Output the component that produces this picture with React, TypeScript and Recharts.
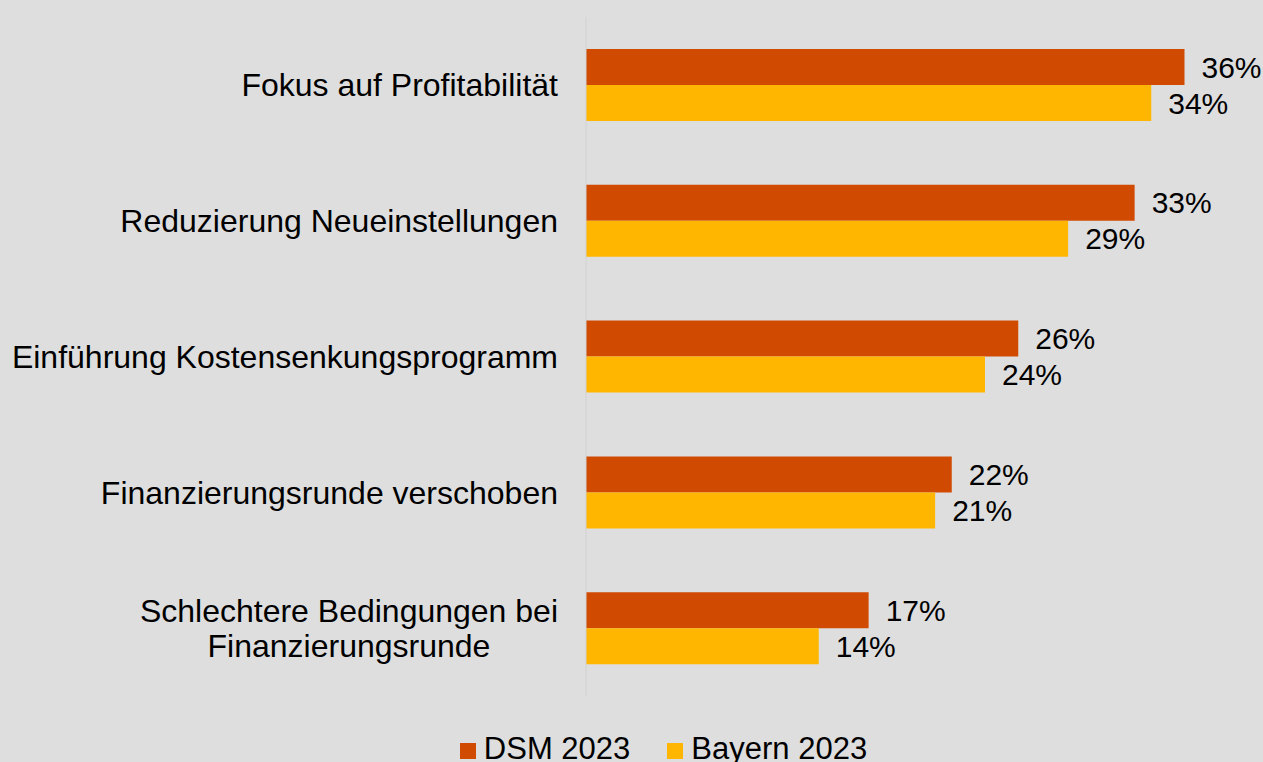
import React from 'react';
import { BarChart, Bar, XAxis, YAxis, Legend, LabelList } from 'recharts';

const categories = [
  'Fokus auf Profitabilität',
  'Reduzierung Neueinstellungen',
  'Einführung Kostensenkungsprogramm',
  'Finanzierungsrunde verschoben',
  'Schlechtere Bedingungen bei\nFinanzierungsrunde',
];
const dsm2023 = [36, 33, 26, 22, 17];
const bayern2023 = [34, 29, 24, 21, 14];

const data = categories.map((name, i) => ({
  name,
  dsm: dsm2023[i],
  bayern: bayern2023[i],
}));

const FONT = '"Liberation Sans", Arial, sans-serif';
const CAT_SIZE = 32;
const VAL_SIZE = 30;
const LEG_SIZE = 31;

let canvas: HTMLCanvasElement | null = null;
const measure = (text: string) => {
  if (!canvas) canvas = document.createElement('canvas');
  const ctx = canvas.getContext('2d')!;
  ctx.font = `${CAT_SIZE}px ${FONT}`;
  return ctx.measureText(text).width;
};

const CategoryTick = (props: any) => {
  const { x, y, payload } = props;
  const lines: string[] = String(payload.value).split('\n');
  const right = x - 20;
  if (lines.length === 1) {
    return (
      <text x={right} y={y} dy="0.35em" textAnchor="end" fontSize={CAT_SIZE} fontFamily={FONT} fill="#000">
        {lines[0]}
      </text>
    );
  }
  const maxW = Math.max(...lines.map(measure));
  const cx = right - maxW / 2;
  const lh = 35.5;
  const top = y - ((lines.length - 1) * lh) / 2;
  return (
    <text textAnchor="middle" fontSize={CAT_SIZE} fontFamily={FONT} fill="#000">
      {lines.map((l, i) => (
        <tspan key={i} x={cx} y={top + i * lh} dy="0.35em">
          {l}
        </tspan>
      ))}
    </text>
  );
};

const pct = (v: any) => `${v}%`;
const legendOrder = ['dsm', 'bayern'];

export default function App() {
  return (
    <div
      style={{
        position: 'fixed',
        top: 0,
        left: 0,
        width: 1263,
        height: 762,
        background: '#DEDEDE',
        overflow: 'hidden',
        fontFamily: FONT,
      }}
    >
      <BarChart
        width={1263}
        height={762}
        data={data}
        layout="vertical"
        margin={{ top: 17, right: 12, bottom: 30, left: 0 }}
        barGap={0}
      >
        <XAxis type="number" domain={[0, 40]} hide />
        <YAxis
          type="category"
          dataKey="name"
          width={586}
          axisLine={{ stroke: '#D2D2D2' }}
          tickLine={false}
          tick={<CategoryTick />}
          interval={0}
        />
        <Legend
          verticalAlign="bottom"
          align="center"
          iconType="square"
          iconSize={16}
          itemSorter={(item: any) => legendOrder.indexOf(item.dataKey)}
          wrapperStyle={{ top: 731, bottom: 'auto', left: 37, width: 1263, fontSize: LEG_SIZE, lineHeight: 'normal' }}
          formatter={(value: string, entry: any) => (
            <span style={{ color: '#000', marginLeft: 4, marginRight: entry.dataKey === 'dsm' ? 27 : 0 }}>{value}</span>
          )}
        />
        <Bar dataKey="dsm" name="DSM 2023" fill="#D04A02" barSize={36} isAnimationActive={false}>
          <LabelList dataKey="dsm" position="right" offset={17} formatter={pct} fill="#000" fontSize={VAL_SIZE} fontFamily={FONT} />
        </Bar>
        <Bar dataKey="bayern" name="Bayern 2023" fill="#FFB600" barSize={36} isAnimationActive={false}>
          <LabelList dataKey="bayern" position="right" offset={17} formatter={pct} fill="#000" fontSize={VAL_SIZE} fontFamily={FONT} />
        </Bar>
      </BarChart>
    </div>
  );
}
